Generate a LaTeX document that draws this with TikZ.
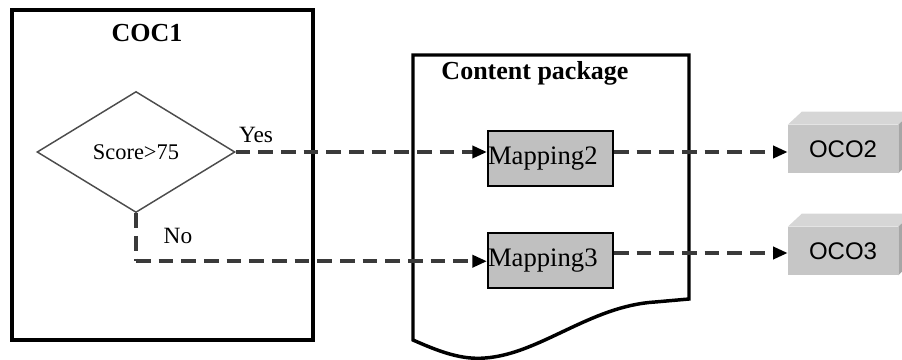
\documentclass[tikz,border=0pt]{standalone}
\usepackage{fontspec}
\setmainfont{Liberation Serif}
\newfontfamily\ocofont{Liberation Sans}
\usetikzlibrary{positioning,shapes.geometric,arrows.meta}
\definecolor{mapgray}{HTML}{C0C0C0}
\definecolor{ocofront}{HTML}{C6C6C6}
\definecolor{ocotop}{HTML}{D6D6D6}
\definecolor{ocoside}{HTML}{A6A6A6}
\definecolor{flowgray}{HTML}{3A3A3A}
\tikzset{
	package diagram/.style={
		x=0.75pt,y=-0.75pt,
		inner sep=0pt
	},
	frame box/.style={
		rectangle,
		draw,
		line width=3pt,
		minimum width=225.75pt,
		minimum height=247.5pt
	},
	title text/.style={
		font=\fontsize{19.5}{22}\selectfont\bfseries
	},
	decision/.style={
		diamond,
		draw=black!70,
		line width=1.1pt,
		minimum width=148.5pt,
		minimum height=90.75pt,
		font=\fontsize{16.8}{19}\selectfont
	},
	branch label/.style={
		font=\fontsize{17.5}{20}\selectfont
	},
	mapping/.style={
		rectangle,
		draw,
		fill=mapgray,
		line width=1.5pt,
		text width=93.75pt,
		minimum height=41.25pt,
		font=\fontsize{20}{22}\selectfont
	},
	oco/.style={
		rectangle,
		fill=ocofront,
		minimum width=82.5pt,
		minimum height=36pt,
		font=\fontsize{18}{20}\ocofont
	},
	flow/.style={
		draw=flowgray,
		line width=2.7pt,
		dash pattern=on 11pt off 6pt,
		-{Triangle[length=11pt,width=9pt,fill=black,color=black]}
	},
	flow plain/.style={
		draw=flowgray,
		line width=2.7pt,
		dash pattern=on 11pt off 6pt
	}
}

\begin{document}
\begin{tikzpicture}[package diagram]
	\useasboundingbox (0,0) rectangle (902,360);
	\clip (0,0) rectangle (902,360);

	% content package (document shape)
	\draw[line width=2.6pt,line join=miter]
		(413,55) -- (689,55) -- (689,299) -- (655,302)
		.. controls (590,306) and (540,354) .. (485,358)
		.. controls (462,360) and (440,352) .. (413,340) -- cycle;
	\node[title text] (pkgtitle) at (535,73) {Content package};

	% COC1 frame
	\node[frame box] (coc) at (162.5,175) {};
	\node[title text] (coctitle) at (147,33) {COC1};
	\node[decision] (score) at (136,152) {Score>75};
	\node[branch label] (yes) at (256,135) {Yes};
	\node[branch label] (no) at (178,236) {No};

	% mappings
	\node[mapping] (map2) at (550.5,158.5) {Mapping2};
	\node[mapping] (map3) at (550.5,260.5) {Mapping3};

	% output objects
	\foreach \n/\y in {2/149,3/251} {
		\node[oco] (oco\n) at (843,\y) {OCO\n};
		\fill[ocotop] (oco\n.north west) -- ++(14,-13) -- ++(110,0) -- (oco\n.north east) -- cycle;
		\fill[ocoside] (oco\n.north east) -- ++(14,-13) -- ++(0,48) -- (oco\n.south east) -- cycle;
	}

	% connectors
	\draw[flow] (score.east) -- (score.east -| map2.west);
	\draw[flow plain] (score.south) -- ++(0,48) coordinate (bend);
	\draw[flow] (bend) -- (bend -| map3.west);
	\draw[flow] (map2.east |- oco2.west) ++(0,3) coordinate (m2r) -- (m2r -| oco2.west);
	\draw[flow] (map3.east |- oco3.west) ++(0,2) coordinate (m3r) -- (m3r -| oco3.west);
\end{tikzpicture}
\end{document}
